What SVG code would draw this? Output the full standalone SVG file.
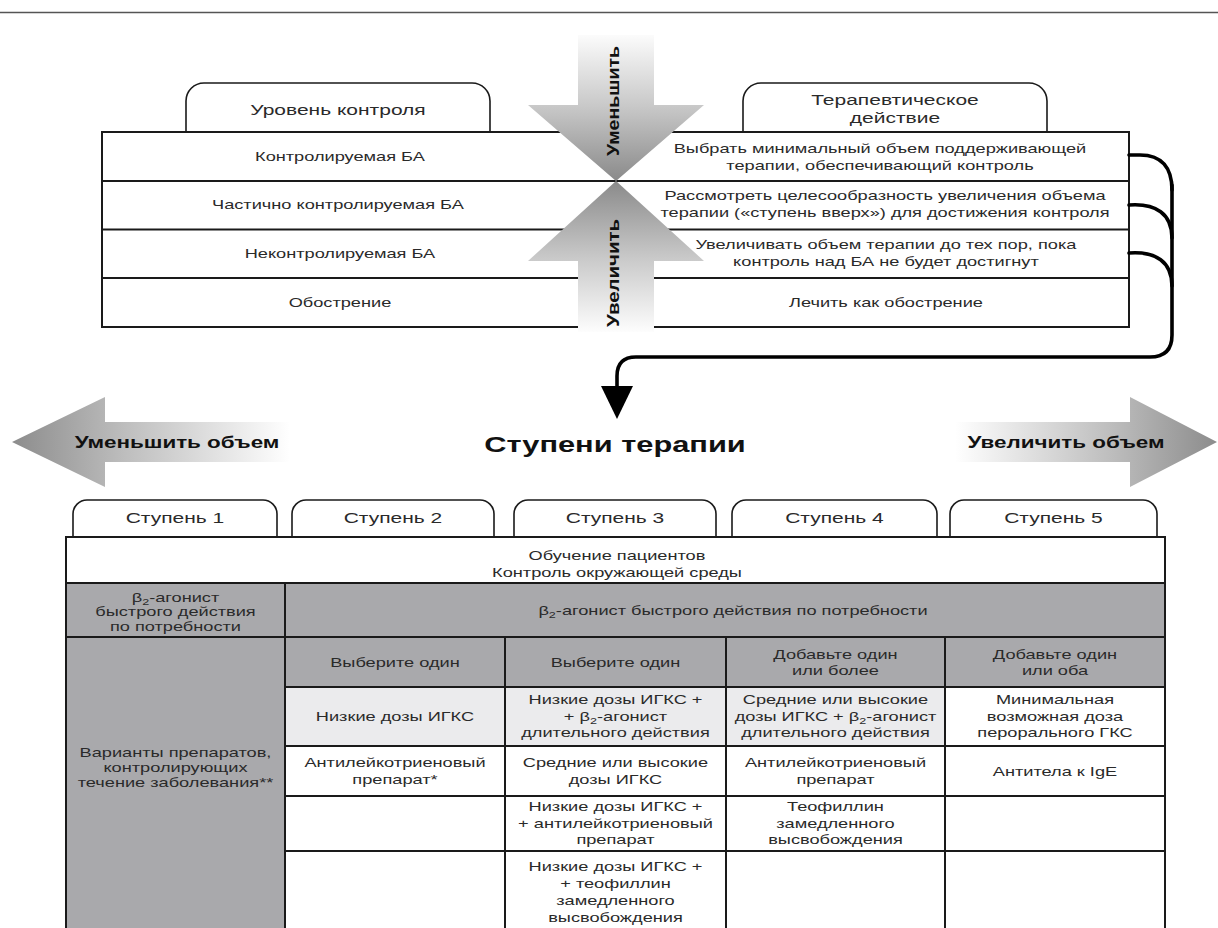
<svg xmlns="http://www.w3.org/2000/svg" width="1218" height="928" viewBox="0 0 1218 928">
<style>
.t{font-family:"Liberation Sans",Arial,sans-serif;fill:#2a2a2a;text-anchor:middle;transform-box:fill-box;transform-origin:center;transform:scaleX(1.4)}
.f13{font-size:13px}
.f15{font-size:15px}
.b{font-weight:bold;fill:#111}
.rt{font-family:"Liberation Sans",Arial,sans-serif;font-weight:bold;font-size:16px;fill:#111;text-anchor:middle}
.ln{stroke:#1a1a1a;stroke-width:2;fill:none}
.tab{fill:#fff;stroke:#1a1a1a;stroke-width:1.6}
.conn{fill:none;stroke:#000;stroke-width:3.6;stroke-linecap:round;stroke-linejoin:round}
.gray{fill:#a9a9ac}
.light{fill:#ebebed}
</style>
<defs>
<linearGradient id="gDown" gradientUnits="userSpaceOnUse" x1="0" y1="30" x2="0" y2="181">
<stop offset="0" stop-color="#ffffff"/><stop offset="0.5" stop-color="#c9c9c9"/><stop offset="1" stop-color="#8a8a8a"/>
</linearGradient>
<linearGradient id="gUp" gradientUnits="userSpaceOnUse" x1="0" y1="335" x2="0" y2="181">
<stop offset="0" stop-color="#ffffff"/><stop offset="0.5" stop-color="#c9c9c9"/><stop offset="1" stop-color="#8a8a8a"/>
</linearGradient>
<linearGradient id="gLeft" gradientUnits="userSpaceOnUse" x1="12" y1="0" x2="290" y2="0">
<stop offset="0" stop-color="#8c8c8c"/><stop offset="0.4" stop-color="#bdbdbd"/><stop offset="1" stop-color="#ffffff"/>
</linearGradient>
<linearGradient id="gRight" gradientUnits="userSpaceOnUse" x1="1217" y1="0" x2="955" y2="0">
<stop offset="0" stop-color="#8c8c8c"/><stop offset="0.4" stop-color="#bdbdbd"/><stop offset="1" stop-color="#ffffff"/>
</linearGradient>
</defs>
<rect width="1218" height="928" fill="#fff"/>
<line x1="0" y1="12.5" x2="1218" y2="12.5" stroke="#555" stroke-width="1.5"/>

<!-- Top section tabs -->
<g id="tab-level">
<path class="tab" d="M186 132 V101 A18 18 0 0 1 204 83 H472 A18 18 0 0 1 490 101 V132"/>
<text class="t f15" x="338" y="115.5">Уровень контроля</text>
</g>
<g id="tab-action">
<path class="tab" d="M743 132 V101 A18 18 0 0 1 761 83 H1029 A18 18 0 0 1 1047 101 V132"/>
<text class="t f15"><tspan x="895" y="105.3">Терапевтическое</tspan><tspan x="895" y="123.3">действие</tspan></text>
</g>

<!-- Top table -->
<g id="top-table">
<rect x="102" y="132" width="1027" height="195" fill="#fff" class="ln"/>
<line class="ln" x1="102" y1="181" x2="1129" y2="181"/>
<line class="ln" x1="102" y1="229.5" x2="1129" y2="229.5"/>
<line class="ln" x1="102" y1="278" x2="1129" y2="278"/>
</g>
<g id="row-controlled">
<text class="t f13" x="340" y="161">Контролируемая БА</text>
<text class="t f13"><tspan x="880" y="153.5">Выбрать минимальный объем поддерживающей</tspan><tspan x="880" y="170.5">терапии, обеспечивающий контроль</tspan></text>
</g>
<g id="row-partial">
<text class="t f13" x="338" y="209.5">Частично контролируемая БА</text>
<text class="t f13"><tspan x="885" y="200.5">Рассмотреть целесообразность увеличения объема</tspan><tspan x="885" y="217.5">терапии («ступень вверх») для достижения контроля</tspan></text>
</g>
<g id="row-uncontrolled">
<text class="t f13" x="340" y="258">Неконтролируемая БА</text>
<text class="t f13"><tspan x="886" y="249.5">Увеличивать объем терапии до тех пор, пока</tspan><tspan x="886" y="266.5">контроль над БА не будет достигнут</tspan></text>
</g>
<g id="row-exacerbation">
<text class="t f13" x="340" y="307">Обострение</text>
<text class="t f13" x="886" y="307.5">Лечить как обострение</text>
</g>

<!-- Central arrows -->
<g id="arrow-decrease">
<path d="M578 35 H654 V105 H704 L616 181 L528 105 H578 Z" fill="url(#gDown)"/>
<text class="rt" x="613" y="106.5" textLength="110" lengthAdjust="spacingAndGlyphs" transform="rotate(-90 613 101)">Уменьшить</text>
</g>
<g id="arrow-increase">
<path d="M578 332 H654 V261 H704 L616 181 L528 261 H578 Z" fill="url(#gUp)"/>
<text class="rt" x="613" y="278.5" textLength="108" lengthAdjust="spacingAndGlyphs" transform="rotate(-90 613 273)">Увеличить</text>
</g>

<!-- Connectors -->
<g id="connectors">
<path class="conn" d="M1129 155 H1140 C1162 155 1172 168 1172 190"/>
<path class="conn" d="M1129 205 C1156 203 1172 214 1172 238"/>
<path class="conn" d="M1129 253 C1156 251 1172 262 1172 286"/>
<path class="conn" d="M1172 185 V335 Q1172 357 1150 357 H636 Q617 357 617 376 V390"/>
<polygon points="601,386 633,386 617,419" fill="#000"/>
</g>

<!-- Middle title and side arrows -->
<g id="side-decrease">
<path d="M12 442 L105 397 V422 H290 V462 H105 V487 Z" fill="url(#gLeft)"/>
<text class="t b" style="font-size:16px" x="177" y="448">Уменьшить объем</text>
</g>
<g id="title">
<text class="t b" style="font-size:22px" x="615" y="452">Ступени терапии</text>
</g>
<g id="side-increase">
<path d="M1217 442 L1130 397 V422 H955 V462 H1130 V487 Z" fill="url(#gRight)"/>
<text class="t b" style="font-size:16px" x="1066" y="448">Увеличить объем</text>
</g>

<!-- Step tabs -->
<g id="step1"><path class="tab" d="M73 537 V514 A14 14 0 0 1 87 500 H263 A14 14 0 0 1 277 514 V537"/><text class="t f15" x="175" y="523">Ступень 1</text></g>
<g id="step2"><path class="tab" d="M292 537 V514 A14 14 0 0 1 306 500 H480 A14 14 0 0 1 494 514 V537"/><text class="t f15" x="393" y="523">Ступень 2</text></g>
<g id="step3"><path class="tab" d="M514 537 V514 A14 14 0 0 1 528 500 H702 A14 14 0 0 1 716 514 V537"/><text class="t f15" x="615" y="523">Ступень 3</text></g>
<g id="step4"><path class="tab" d="M732 537 V514 A14 14 0 0 1 746 500 H923 A14 14 0 0 1 937 514 V537"/><text class="t f15" x="834.5" y="523">Ступень 4</text></g>
<g id="step5"><path class="tab" d="M950 537 V514 A14 14 0 0 1 964 500 H1143 A14 14 0 0 1 1157 514 V537"/><text class="t f15" x="1053.5" y="523">Ступень 5</text></g>

<!-- Steps table -->
<g id="table-fills">
<rect x="66" y="537" width="1099" height="400" fill="#fff"/>
<rect class="gray" x="66" y="583" width="1099" height="54"/>
<rect class="gray" x="66" y="637" width="219" height="300"/>
<rect class="gray" x="285" y="637" width="880" height="50"/>
<rect class="light" x="285" y="687" width="660" height="59"/>
</g>
<g id="table-lines">
<rect class="ln" x="66" y="537" width="1099" height="400"/>
<line class="ln" x1="66" y1="583" x2="1165" y2="583"/>
<line class="ln" x1="66" y1="637" x2="1165" y2="637"/>
<line class="ln" x1="285" y1="687" x2="1165" y2="687"/>
<line class="ln" x1="285" y1="746" x2="1165" y2="746"/>
<line class="ln" x1="285" y1="796" x2="1165" y2="796"/>
<line class="ln" x1="285" y1="851" x2="1165" y2="851"/>
<line class="ln" x1="285" y1="583" x2="285" y2="937"/>
<line class="ln" x1="505" y1="637" x2="505" y2="937"/>
<line class="ln" x1="726" y1="637" x2="726" y2="937"/>
<line class="ln" x1="945" y1="637" x2="945" y2="937"/>
</g>
<g id="cell-education">
<text class="t f13"><tspan x="617" y="560">Обучение пациентов</tspan><tspan x="617" y="577">Контроль окружающей среды</tspan></text>
</g>
<g id="cell-beta-step1">
<text class="t f13"><tspan x="175.5" y="602.5">β<tspan font-size="9" dy="3">2</tspan><tspan dy="-3">-агонист</tspan></tspan><tspan x="175.5" y="616.5">быстрого действия</tspan><tspan x="175.5" y="631">по потребности</tspan></text>
</g>
<g id="cell-beta-all">
<text class="t f13" x="733" y="615">β<tspan font-size="9" dy="3">2</tspan><tspan dy="-3">-агонист быстрого действия по потребности</tspan></text>
</g>
<g id="cell-options">
<text class="t f13"><tspan x="175.5" y="757.5">Варианты препаратов,</tspan><tspan x="175.5" y="772.5">контролирующих</tspan><tspan x="175.5" y="787.5">течение заболевания**</tspan></text>
</g>
<g id="hdr2"><text class="t f13" x="395" y="667">Выберите один</text></g>
<g id="hdr3"><text class="t f13" x="615.5" y="667">Выберите один</text></g>
<g id="hdr4"><text class="t f13"><tspan x="835.5" y="659.5">Добавьте один</tspan><tspan x="835.5" y="675.5">или более</tspan></text></g>
<g id="hdr5"><text class="t f13"><tspan x="1055" y="659.5">Добавьте один</tspan><tspan x="1055" y="675.5">или оба</tspan></text></g>

<g id="s2r1"><text class="t f13" x="395" y="721">Низкие дозы ИГКС</text></g>
<g id="s3r1"><text class="t f13"><tspan x="615.5" y="704.5">Низкие дозы ИГКС +</tspan><tspan x="615.5" y="721">+ β<tspan font-size="9" dy="3">2</tspan><tspan dy="-3">-агонист</tspan></tspan><tspan x="615.5" y="737.5">длительного действия</tspan></text></g>
<g id="s4r1"><text class="t f13"><tspan x="835.5" y="704.5">Средние или высокие</tspan><tspan x="835.5" y="721">дозы ИГКС + β<tspan font-size="9" dy="3">2</tspan><tspan dy="-3">-агонист</tspan></tspan><tspan x="835.5" y="737.5">длительного действия</tspan></text></g>
<g id="s5r1"><text class="t f13"><tspan x="1055" y="704.5">Минимальная</tspan><tspan x="1055" y="721">возможная доза</tspan><tspan x="1055" y="737.5">перорального ГКС</tspan></text></g>

<g id="s2r2"><text class="t f13"><tspan x="395" y="767.5">Антилейкотриеновый</tspan><tspan x="395" y="784.5">препарат*</tspan></text></g>
<g id="s3r2"><text class="t f13"><tspan x="615.5" y="767.5">Средние или высокие</tspan><tspan x="615.5" y="784.5">дозы ИГКС</tspan></text></g>
<g id="s4r2"><text class="t f13"><tspan x="835.5" y="767.5">Антилейкотриеновый</tspan><tspan x="835.5" y="784.5">препарат</tspan></text></g>
<g id="s5r2"><text class="t f13" x="1055" y="776">Антитела к IgE</text></g>

<g id="s3r3"><text class="t f13"><tspan x="615.5" y="811.5">Низкие дозы ИГКС +</tspan><tspan x="615.5" y="828">+ антилейкотриеновый</tspan><tspan x="615.5" y="844.5">препарат</tspan></text></g>
<g id="s4r3"><text class="t f13"><tspan x="835.5" y="811.5">Теофиллин</tspan><tspan x="835.5" y="828">замедленного</tspan><tspan x="835.5" y="844.5">высвобождения</tspan></text></g>

<g id="s3r4"><text class="t f13"><tspan x="615.5" y="871.5">Низкие дозы ИГКС +</tspan><tspan x="615.5" y="888.5">+ теофиллин</tspan><tspan x="615.5" y="905.5">замедленного</tspan><tspan x="615.5" y="922.5">высвобождения</tspan></text></g>
</svg>
